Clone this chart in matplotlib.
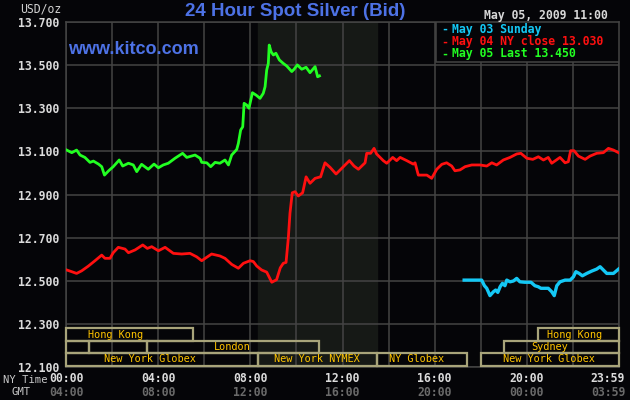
import matplotlib
matplotlib.use('Agg')
import matplotlib.pyplot as plt
import matplotlib.transforms as mtransforms
from matplotlib.patches import Rectangle

# hours since NY midnight / price in USD
green_h = [0.03, 0.25, 0.46, 0.61, 0.82, 1.04, 1.19, 1.41, 1.55, 1.67, 1.85, 2.05, 2.31, 2.46, 2.71, 2.92,
           3.07, 3.28, 3.57, 3.82, 4.01, 4.22, 4.44, 4.73, 5.06, 5.24, 5.60, 5.82, 5.89, 6.11, 6.28, 6.47,
           6.68, 6.90, 7.05, 7.19, 7.41, 7.48, 7.58, 7.67, 7.73, 7.84, 7.94, 8.02, 8.09, 8.25, 8.42, 8.56,
           8.64, 8.71, 8.78, 8.82, 8.90, 9.00, 9.11, 9.26, 9.43, 9.58, 9.80, 9.90, 10.04, 10.23, 10.42,
           10.59, 10.81, 10.92, 11.0]
green_p = [13.106, 13.094, 13.106, 13.083, 13.072, 13.049, 13.055, 13.041, 13.029, 12.990, 13.010, 13.029,
           13.060, 13.032, 13.045, 13.037, 13.006, 13.040, 13.017, 13.041, 13.024, 13.037, 13.045, 13.068,
           13.091, 13.072, 13.083, 13.068, 13.049, 13.047, 13.029, 13.049, 13.045, 13.060, 13.037, 13.083,
           13.109, 13.137, 13.199, 13.214, 13.323, 13.315, 13.300, 13.338, 13.372, 13.361, 13.346, 13.369,
           13.400, 13.477, 13.508, 13.593, 13.562, 13.547, 13.555, 13.524, 13.508, 13.496, 13.470, 13.481,
           13.501, 13.481, 13.490, 13.465, 13.493, 13.446, 13.450]

red_h = [0.03, 0.25, 0.46, 0.68, 0.97, 1.26, 1.55, 1.69, 1.91, 2.05,
         2.27, 2.56, 2.71, 3.0, 3.33, 3.53, 3.72, 4.01, 4.30, 4.66,
         5.02, 5.38, 5.67, 5.89, 6.11, 6.32, 6.68, 6.90, 7.19, 7.48,
         7.70, 7.99, 8.13, 8.28, 8.49, 8.71, 8.93, 9.14, 9.30, 9.43,
         9.55, 9.65, 9.72, 9.82, 9.94, 10.08, 10.27, 10.42, 10.59, 10.81,
         11.05, 11.24, 11.46, 11.72, 12.01, 12.30, 12.50, 12.69, 12.98, 13.05,
         13.22, 13.37, 13.48, 13.77, 13.92, 14.18, 14.35, 14.50, 14.79, 15.07,
         15.15, 15.29, 15.51, 15.66, 15.87, 16.09, 16.31, 16.52, 16.74, 16.88,
         17.10, 17.32, 17.61, 17.97, 18.26, 18.48, 18.69, 18.98, 19.27, 19.56,
         19.74, 20.00, 20.26, 20.50, 20.72, 20.93, 21.08, 21.44, 21.66, 21.80,
         21.90, 22.05, 22.24, 22.53, 22.74, 23.03, 23.32, 23.54, 23.76, 23.98]
red_p = [12.550, 12.542, 12.534, 12.546, 12.568, 12.593, 12.619, 12.604, 12.604, 12.630,
         12.655, 12.647, 12.630, 12.643, 12.666, 12.650, 12.658, 12.639, 12.655, 12.627,
         12.624, 12.627, 12.611, 12.593, 12.609, 12.624, 12.615, 12.604, 12.576, 12.558,
         12.581, 12.593, 12.589, 12.568, 12.550, 12.540, 12.493, 12.505, 12.560, 12.581,
         12.585, 12.700, 12.813, 12.908, 12.913, 12.893, 12.908, 12.982, 12.952, 12.975,
         12.982, 13.047, 13.026, 12.995, 13.026, 13.057, 13.032, 13.017, 13.047, 13.091,
         13.091, 13.114, 13.088, 13.057, 13.045, 13.072, 13.057, 13.072, 13.057, 13.041,
         13.047, 12.990, 12.990, 12.990, 12.975, 13.017, 13.040, 13.047, 13.032, 13.010,
         13.014, 13.029, 13.037, 13.037, 13.032, 13.047, 13.037, 13.060, 13.072, 13.088,
         13.091, 13.068, 13.063, 13.075, 13.060, 13.072, 13.045, 13.072, 13.047, 13.052,
         13.103, 13.103, 13.078, 13.063, 13.078, 13.091, 13.094, 13.114, 13.106, 13.094]

blue_h = [17.28, 18.04, 18.16, 18.26, 18.40, 18.55, 18.65, 18.74, 18.84, 18.94,
          19.05, 19.13, 19.27, 19.42, 19.56, 19.70, 19.92, 20.18, 20.35, 20.50,
          20.61, 20.93, 21.08, 21.19, 21.30, 21.44, 21.66, 21.88, 22.02, 22.13,
          22.27, 22.41, 22.60, 22.82, 23.03, 23.18, 23.32, 23.47, 23.76, 23.98]
blue_p = [12.503, 12.503, 12.477, 12.465, 12.431, 12.449, 12.457, 12.446, 12.472, 12.488,
          12.477, 12.503, 12.495, 12.499, 12.511, 12.495, 12.493, 12.493, 12.477, 12.472,
          12.465, 12.465, 12.449, 12.431, 12.477, 12.495, 12.503, 12.503, 12.518, 12.542,
          12.534, 12.523, 12.534, 12.545, 12.554, 12.565, 12.550, 12.534, 12.534, 12.554]

legend_labels = ['May 03 Sunday', 'May 04 NY close 13.030', 'May 05 Last 13.450']
ny_ticks = [0, 4, 8, 12, 16, 20, 24]
ny_labels = ['00:00', '04:00', '08:00', '12:00', '16:00', '20:00', '23:59']
gmt_labels = ['04:00', '08:00', '12:00', '16:00', '20:00', '00:00', '03:59']
y_ticks = [12.1, 12.3, 12.5, 12.7, 12.9, 13.1, 13.3, 13.5, 13.7]

# market sessions: row, start, end, name, label centre
sess_row = [0, 0, 1, 1, 1, 1, 2, 2, 2, 2]
sess_start = [0, 20.5, 0, 1.0, 3.5, 19.0, 0, 8.33, 13.5, 18.0]
sess_end = [5.5, 24, 1.0, 3.5, 11.0, 24, 8.33, 13.5, 17.4, 24]
sess_name = ['Hong Kong', 'Hong Kong', '', '', 'London', 'Sydney',
             'New York Globex', 'New York NYMEX', 'NY Globex', 'New York Globex']
sess_label_x = [2.13, 22.05, 0, 0, 7.2, 21.0, 3.65, 10.9, 15.2, 20.96]
nymex_open, nymex_close = 8.33, 13.5

BG = '#050508'
GRID = '#444444'
MONO = 'DejaVu Sans Mono'
W, H = 630, 400

fig = plt.figure(figsize=(6.3, 4), dpi=100, facecolor=BG)
ax = fig.add_axes([66 / W, 1 - 367 / H, 553 / W, 345 / H])
ax.set_facecolor(BG)
ax.set_xlim(0, 24)
ax.set_ylim(12.1, 13.7)

ax.axvspan(nymex_open, nymex_close, color='#161916', zorder=0)
for h in range(0, 25, 2):
    ax.axvline(h, color=GRID, lw=1.1, zorder=1)
for y in y_ticks:
    ax.axhline(y, color=GRID, lw=1.1, zorder=1)

ax.set_xticks([])
ax.set_yticks(y_ticks)
ax.set_yticklabels(['%.3f' % v for v in y_ticks], fontfamily=MONO, fontweight='bold',
                   fontsize=8.3, color='#dcdcdc')
ax.tick_params(axis='y', length=0, pad=5)
for s in ax.spines.values():
    s.set_color(GRID)
    s.set_linewidth(1.1)

ax.plot(blue_h, blue_p, color='#14c8f5', lw=2.4, zorder=4)
ax.plot(red_h, red_p, color='#ff1010', lw=2.0, zorder=4)
ax.plot(green_h, green_p, color='#22ff22', lw=2.0, zorder=5)

# session boxes along the bottom
trans = mtransforms.blended_transform_factory(ax.transData, ax.transAxes)
row_top = [0.113, 0.0754, 0.0406]
row_bot = [0.0754, 0.0406, 0.003]
for r, a, b, name, lx in zip(sess_row, sess_start, sess_end, sess_name, sess_label_x):
    rect = Rectangle((a, row_bot[r]), b - a, row_top[r] - row_bot[r], transform=trans,
                     fill=False, edgecolor='#a8a47a', lw=1.6, zorder=6, clip_on=False)
    ax.add_patch(rect)
    if name:
        ax.text(lx, (row_top[r] + row_bot[r]) / 2, name, transform=trans, ha='center',
                va='center', fontfamily=MONO, fontsize=7.4, color='#ffc400', zorder=7)

# legend box
ax.add_patch(Rectangle((0.669, 0.884), 0.331, 0.116, transform=ax.transAxes, facecolor=BG,
                       edgecolor=GRID, lw=1.1, zorder=8))
leg_colors = ['#14c8f5', '#ff1010', '#22ff22']
leg_y = [29.3, 41.7, 54]
for lab, c, yy in zip(legend_labels, leg_colors, leg_y):
    fig.text(441 / W, 1 - yy / H, '-', color=c, fontfamily=MONO, fontweight='bold',
             fontsize=8.3, va='center', ha='left', zorder=9)
    fig.text(452 / W, 1 - yy / H, lab, color=c, fontfamily=MONO, fontweight='bold',
             fontsize=8.3, va='center', ha='left', zorder=9)

# time axis labels (last pair is pulled left so it stays inside the picture)
for i, (t, a, g) in enumerate(zip(ny_ticks, ny_labels, gmt_labels)):
    tr = trans
    if i == len(ny_ticks) - 1:
        tr = trans + mtransforms.ScaledTranslation(-11 / 100, 0, fig.dpi_scale_trans)
    ax.text(t, -11 / 345, a, transform=tr, ha='center', va='center', fontfamily=MONO,
            fontweight='bold', fontsize=8.3, color='#dcdcdc', clip_on=False)
    ax.text(t, -25 / 345, g, transform=tr, ha='center', va='center', fontfamily=MONO,
            fontweight='bold', fontsize=8.3, color='#6a6a6a', clip_on=False)
fig.text(3 / W, 1 - 380 / H, 'NY Time', fontfamily=MONO, fontsize=7.6, color='#c8c8c8',
         va='center', ha='left')
fig.text(11 / W, 1 - 392 / H, 'GMT', fontfamily=MONO, fontsize=7.6, color='#c8c8c8',
         va='center', ha='left')

fig.text(20 / W, 1 - 9 / H, 'USD/oz', fontfamily=MONO, fontsize=8.3, color='#d0d0d0',
         va='center', ha='left')
fig.text(295 / W, 1 - 11 / H, '24 Hour Spot Silver (Bid)', fontfamily='Liberation Sans',
         fontweight='bold', fontsize=13.5, color='#4d72e6', va='center', ha='center')
fig.text(68 / W, 1 - 50 / H, 'www.kitco.com', fontfamily='Liberation Sans',
         fontweight='bold', fontsize=13, color='#4d72e6', va='center', ha='left', zorder=9)
fig.text(608 / W, 1 - 15 / H, 'May 05, 2009 11:00', fontfamily=MONO, fontweight='bold',
         fontsize=8.3, color='#d8d8d8', va='center', ha='right')

fig.savefig('out.png', dpi=100, facecolor=BG)
